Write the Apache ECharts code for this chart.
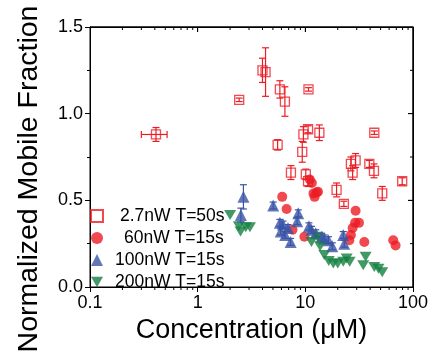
<!DOCTYPE html>
<html>
<head>
<meta charset="utf-8">
<script src="https://cdn.jsdelivr.net/npm/echarts@6/dist/echarts.min.js"></script>
<style>
html, body { margin: 0; background: #fff; }
#chart { width: 437px; height: 354px; }
</style>
</head>
<body>
<div id="chart"></div>
<script>
// 2.7nW T=50s (open squares, with error bars)
var sqX   = [0.41, 2.43, 4.0, 4.27, 5.8, 6.46, 10.7, 5.53, 9.6, 10.6, 13.5, 43.7, 9.36, 7.35, 10.1, 10.6, 19.5, 22.8, 26.5, 29.3, 27.5, 39.3, 43.4, 51.8, 79.4];
var sqY   = [0.88, 1.08, 1.25, 1.24, 1.14, 1.07, 1.14, 0.82, 0.88, 0.91, 0.89, 0.89, 0.78, 0.66, 0.65, 0.61, 0.56, 0.48, 0.71, 0.73, 0.66, 0.71, 0.67, 0.54, 0.61];
var sqErr = [0.04, 0.01, 0.07, 0.14, 0.05, 0.085, 0.01, 0.03, 0.045, 0.02, 0.045, 0.01, 0.06, 0.04, 0.03, 0.03, 0.04, 0.015, 0.04, 0.04, 0.04, 0.02, 0.04, 0.04, 0.02];
var sqXLo = [0.30];   // horizontal error bar, first point only
var sqXHi = [0.52];

// 60nW T=15s (filled circles)
var ciX = [6.1, 6.7, 7.6, 9.8, 11.0, 11.5, 11.9, 12.7, 12.2, 13.1, 29.3, 29.0, 31.5, 27.5, 26.5, 25.6, 35.3, 65.5, 68.9];
var ciY = [0.52, 0.45, 0.33, 0.29, 0.62, 0.60, 0.54, 0.545, 0.52, 0.55, 0.44, 0.37, 0.37, 0.34, 0.30, 0.27, 0.26, 0.27, 0.24];

// 100nW T=15s (up triangles)
var trX   = [2.66, 2.52, 5.03, 5.8, 6.2, 5.9, 6.9, 7.3, 8.6, 8.4, 10.8, 11.4, 14.2, 15.0, 16.4, 17.8, 22.5, 23.0, 6.5, 12.5];
var trY   = [0.52, 0.415, 0.47, 0.37, 0.36, 0.32, 0.34, 0.26, 0.425, 0.38, 0.35, 0.33, 0.29, 0.28, 0.27, 0.235, 0.30, 0.25, 0.30, 0.31];
var trErr = [0.07, 0.04, 0.02, 0.02, 0.02, 0.02, 0.02, 0.02, 0.02, 0.02, 0.02, 0.02, 0.02, 0.02, 0.02, 0.02, 0.02, 0.02, 0.02, 0.02];

// 200nW T=15s (down triangles)
var dtX = [2.0, 2.41, 2.5, 3.06, 2.8, 11.4, 13.0, 13.7, 15.0, 18.2, 20.0, 22.5, 24.2, 25.8, 34.5, 36.3, 43.7, 47.8, 51.8, 16.5];
var dtY = [0.415, 0.35, 0.32, 0.345, 0.345, 0.26, 0.29, 0.235, 0.185, 0.135, 0.135, 0.145, 0.165, 0.145, 0.125, 0.175, 0.115, 0.105, 0.085, 0.15];

// tick positions for the log axis and the mirrored top / right frame
var minorX = [0.2, 0.3, 0.4, 0.5, 0.6, 0.7, 0.8, 0.9, 2, 3, 4, 5, 6, 7, 8, 9, 20, 30, 40, 50, 60, 70, 80, 90];
var majorX = [1, 10];
var rightY = [0.25, 0.5, 0.75, 1.0, 1.25];

var legendNames = ['2.7nW T=50s', '60nW T=15s', '100nW T=15s', '200nW T=15s'];
var legendPad = [12, 16, 7, 7];  // text offset so labels end together

var RED = '#ec1c24', BLUE = '#3b55a6', GREEN = '#138040';
var FONT = 'Liberation Sans, Arial, sans-serif';

function pairs(xs, ys) {
    return xs.map(function (x, i) { return [x, ys[i]]; });
}

function errData(xs, ys, es, xlo, xhi) {
    return xs.map(function (x, i) {
        var lo = (xlo && xlo[i] != null) ? xlo[i] : x;
        var hi = (xhi && xhi[i] != null) ? xhi[i] : x;
        return [x, ys[i], ys[i] - es[i], ys[i] + es[i], lo, hi];
    });
}

function errRenderer(color) {
    return function (params, api) {
        var x = api.value(0), y = api.value(1);
        var p = api.coord([x, y]);
        var lo = api.coord([x, api.value(2)]);
        var hi = api.coord([x, api.value(3)]);
        var style = { stroke: color, lineWidth: 1.2 };
        var cap = 3.5;
        var kids = [
            { type: 'line', shape: { x1: p[0], y1: lo[1], x2: p[0], y2: hi[1] }, style: style },
            { type: 'line', shape: { x1: p[0] - cap, y1: lo[1], x2: p[0] + cap, y2: lo[1] }, style: style },
            { type: 'line', shape: { x1: p[0] - cap, y1: hi[1], x2: p[0] + cap, y2: hi[1] }, style: style }
        ];
        if (api.value(4) !== api.value(5)) {
            var l = api.coord([api.value(4), y]);
            var r = api.coord([api.value(5), y]);
            kids.push({ type: 'line', shape: { x1: l[0], y1: p[1], x2: r[0], y2: p[1] }, style: style });
            kids.push({ type: 'line', shape: { x1: l[0], y1: p[1] - cap, x2: l[0], y2: p[1] + cap }, style: style });
            kids.push({ type: 'line', shape: { x1: r[0], y1: p[1] - cap, x2: r[0], y2: p[1] + cap }, style: style });
        }
        return { type: 'group', children: kids };
    };
}

// frame ticks: item [x, y, len, kind]; kind 0 = x tick, 1 = right-edge y tick
function tickRender(params, api) {
    var kind = api.value(3), len = api.value(2);
    if (kind === 0) {
        var v = api.value(0);
        var b = api.coord([v, 0]);
        var t = api.coord([v, 1.5]);
        var kids = [{ type: 'line', shape: { x1: t[0], y1: t[1], x2: t[0], y2: t[1] + len }, style: { stroke: '#000', lineWidth: 1 } }];
        if (len < 4) kids.push({ type: 'line', shape: { x1: b[0], y1: b[1], x2: b[0], y2: b[1] + len }, style: { stroke: '#000', lineWidth: 1 } });
        return { type: 'group', children: kids };
    }
    var r = api.coord([100, api.value(1)]);
    return { type: 'line', shape: { x1: r[0] - len, y1: r[1], x2: r[0], y2: r[1] }, style: { stroke: '#000', lineWidth: 1 } };
}

var tickData = minorX.map(function (v) { return [v, 0.5, 3, 0]; })
    .concat(majorX.map(function (v) { return [v, 0.5, 5, 0]; }))
    .concat(rightY.map(function (v) { return [50, v, v % 0.5 === 0 ? 5 : 3, 1]; }));

function axisLine() { return { show: true, onZero: false, lineStyle: { color: '#000', width: 1 } }; }
var downTri = 'path://M0,0 L10,0 L5,8.66 Z';

var chart = echarts.init(document.getElementById('chart'));
chart.setOption({
    backgroundColor: '#fff',
    animation: false,
    textStyle: { fontFamily: FONT },
    grid: { left: 90, right: 24, top: 27, bottom: 67, containLabel: false, outerBoundsMode: 'none',
        show: true, borderColor: '#000', borderWidth: 1, backgroundColor: 'rgba(0,0,0,0)' },
    legend: {
        data: legendNames.map(function (n, i) {
            return { name: n, textStyle: { padding: [0, 0, 0, legendPad[i]] } };
        }),
        orient: 'vertical',
        left: 90,
        top: 206,
        padding: 0,
        itemGap: 2,
        itemWidth: 12,
        itemHeight: 12,
        textStyle: { fontSize: 17.5, color: '#000', fontFamily: FONT, lineHeight: 20 }
    },
    xAxis: [{
        type: 'log', logBase: 10, min: 0.1, max: 100,
        axisLine: axisLine(),
        axisTick: { show: true, inside: false, length: 5, lineStyle: { color: '#000' } },
        axisLabel: { fontSize: 18, color: '#000', margin: 7, fontFamily: FONT },
        splitLine: { show: false },
        name: 'Concentration (\u03bcM)',
        nameLocation: 'middle',
        nameGap: 20,
        nameTextStyle: { fontSize: 27, color: '#000', fontFamily: FONT }
    }, {
        show: true, type: 'log', logBase: 10, min: 0.1, max: 100, position: 'top',
        axisLine: axisLine(),
        axisTick: { show: true, inside: true, length: 5, lineStyle: { color: '#000' } },
        axisLabel: { show: false },
        splitLine: { show: false }
    }],
    yAxis: [{
        type: 'value', min: 0, max: 1.5, interval: 0.5,
        axisLine: axisLine(),
        axisTick: { show: true, inside: false, length: 5, lineStyle: { color: '#000' } },
        minorTick: { show: true, splitNumber: 2, length: 3, lineStyle: { color: '#000' } },
        axisLabel: { fontSize: 18, color: '#000', margin: 7, fontFamily: FONT,
            formatter: function (v) { return v.toFixed(1); } },
        splitLine: { show: false },
        name: 'Normalized Mobile Fraction',
        nameLocation: 'middle',
        nameGap: 46,
        nameTextStyle: { fontSize: 28.5, color: '#000', fontFamily: FONT, padding: [0, 44, 0, 0] }
    }, {
        show: true, type: 'value', min: 0, max: 1.5, interval: 0.5, position: 'right',
        axisLine: axisLine(),
        axisTick: { show: true, inside: true, length: 5, lineStyle: { color: '#000' } },
        axisLabel: { show: false },
        splitLine: { show: false }
    }],
    series: [{
        type: 'custom', name: 'frame', silent: true,
        renderItem: tickRender,
        data: tickData,
        z: 5
    }, {
        type: 'custom', name: 'err-sq', silent: true,
        renderItem: errRenderer(RED),
        data: errData(sqX, sqY, sqErr, sqXLo, sqXHi),
        z: 3
    }, {
        type: 'custom', name: 'err-tr', silent: true,
        renderItem: errRenderer(BLUE),
        data: errData(trX, trY, trErr),
        z: 3
    }, {
        type: 'scatter', name: legendNames[0],
        symbol: 'rect', symbolSize: 9,
        itemStyle: { color: 'rgba(255,255,255,0)', borderColor: RED, borderWidth: 1.3 },
        data: pairs(sqX, sqY), z: 4
    }, {
        type: 'scatter', name: legendNames[1],
        symbol: 'circle', symbolSize: 10,
        itemStyle: { color: RED },
        data: pairs(ciX, ciY), z: 2
    }, {
        type: 'scatter', name: legendNames[2],
        symbol: 'triangle', symbolSize: 12,
        itemStyle: { color: BLUE },
        data: pairs(trX, trY), z: 2
    }, {
        type: 'scatter', name: legendNames[3],
        symbol: downTri, symbolSize: [12, 10],
        itemStyle: { color: GREEN },
        data: pairs(dtX, dtY), z: 2
    }, {
        // binds the mirror axes; its markLines also trace the top and right edges
        type: 'scatter', name: 'mirror', xAxisIndex: 1, yAxisIndex: 1,
        symbolSize: 0, silent: true, data: [[1, 0.5]],
        markLine: {
            silent: true, symbol: 'none', animation: false,
            label: { show: false },
            lineStyle: { color: '#000', width: 1, type: 'solid' },
            data: [
                [{ coord: [0.1, 1.5] }, { coord: [100, 1.5] }],
                [{ coord: [100, 1.5] }, { coord: [100, 0] }]
            ]
        }
    }]
});

// top and right edges of the frame, placed through the grid's own scales
var tl = chart.convertToPixel({ gridIndex: 0 }, [0.1, 1.5]);
var br = chart.convertToPixel({ gridIndex: 0 }, [100, 0]);
chart.setOption({
    graphic: [{
        type: 'polyline', silent: true, z: 10,
        shape: { points: [[tl[0], tl[1]], [br[0], tl[1]], [br[0], br[1]]] },
        style: { stroke: '#000', lineWidth: 1, fill: null }
    }]
});
</script>
</body>
</html>
